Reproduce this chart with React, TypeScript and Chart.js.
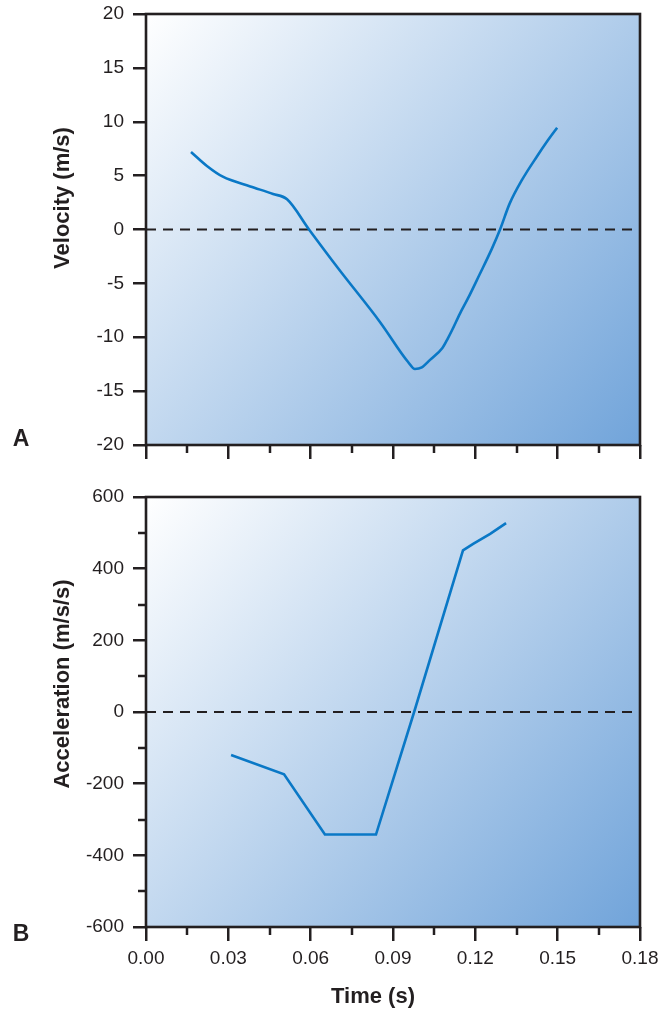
import React, { useEffect, useRef } from 'react';
import { Chart, registerables } from 'chart.js';

Chart.register(...registerables);

// ---------- data ----------
const timeMin = 0;
const timeMax = 0.18;
const timeStep = 0.03;

const velocityMin = -20;
const velocityMax = 20;
const velocityStep = 5;

const accelMin = -600;
const accelMax = 600;
const accelStep = 200;

const velocityTime = [
  0.0164, 0.0222, 0.028, 0.038, 0.0463, 0.0514, 0.0594, 0.07, 0.0853, 0.0955,
  0.098, 0.1005, 0.1035, 0.108, 0.11, 0.1115, 0.1144, 0.1173, 0.1215, 0.126,
  0.129, 0.1325, 0.137, 0.1425, 0.1465, 0.1498,
];
const velocityValues = [
  7.2, 5.9, 4.9, 4.0, 3.3, 2.8, 0, -3.6, -8.6, -12.3,
  -12.95, -12.8, -12.1, -11.0, -10.1, -9.35, -7.8, -6.4, -4.2, -1.8,
  0, 2.4, 4.6, 6.8, 8.3, 9.45,
];

const accelTime = [0.031, 0.0503, 0.0652, 0.0838, 0.0977, 0.1155, 0.1192, 0.1254, 0.1312];
const accelValues = [-120, -174, -342, -342, 0, 451, 469, 497, 527];

const zeroLineTime = [0, 0.18];
const zeroLineValues = [0, 0];

// ---------- styling ----------
const FONT = "'Liberation Sans', Arial, Helvetica, sans-serif";
const INK = '#231f20';
const LINE_BLUE = '#0a78c6';

const toXY = (xs: number[], ys: number[]) => xs.map((x, i) => ({ x, y: ys[i] }));

const decorPlugin = {
  id: 'decor',
  beforeDraw(chart: any) {
    const { ctx, chartArea: a } = chart;
    const g = ctx.createLinearGradient(a.left, a.top, a.right, a.bottom);
    g.addColorStop(0, '#ffffff');
    g.addColorStop(1, '#71a4da');
    ctx.save();
    ctx.fillStyle = g;
    ctx.fillRect(a.left, a.top, a.right - a.left, a.bottom - a.top);
    ctx.restore();
  },
  afterDraw(chart: any, _args: any, opts: any) {
    const { ctx, chartArea: a } = chart;
    ctx.save();
    ctx.strokeStyle = INK;
    ctx.lineWidth = 2.5;
    if (opts.minorX) {
      const s = chart.scales.x;
      const n = Math.round((s.max - s.min) / opts.minorX);
      for (let i = 1; i < n; i += 2) {
        const px = Math.round(s.getPixelForValue(s.min + i * opts.minorX));
        ctx.beginPath();
        ctx.moveTo(px, a.bottom);
        ctx.lineTo(px, a.bottom + 8);
        ctx.stroke();
      }
    }
    if (opts.minorY) {
      const s = chart.scales.y;
      const n = Math.round((s.max - s.min) / opts.minorY);
      for (let i = 1; i < n; i += 2) {
        const py = Math.round(s.getPixelForValue(s.min + i * opts.minorY));
        ctx.beginPath();
        ctx.moveTo(a.left, py);
        ctx.lineTo(a.left - 8, py);
        ctx.stroke();
      }
    }
    ctx.lineWidth = 2.6;
    ctx.strokeRect(a.left, a.top, a.right - a.left, a.bottom - a.top);
    ctx.fillStyle = INK;
    ctx.textAlign = 'center';
    ctx.textBaseline = 'middle';
    if (opts.yTitle) {
      ctx.save();
      ctx.translate(opts.yTitle.x, opts.yTitle.y);
      ctx.rotate(-Math.PI / 2);
      ctx.font = `bold 22px ${FONT}`;
      ctx.fillText(opts.yTitle.text, 0, 0);
      ctx.restore();
    }
    if (opts.xTitle) {
      ctx.font = `bold 22px ${FONT}`;
      ctx.fillText(opts.xTitle.text, opts.xTitle.x, opts.xTitle.y);
    }
    if (opts.letter) {
      ctx.font = `bold 23px ${FONT}`;
      ctx.fillText(opts.letter.text, opts.letter.x, opts.letter.y);
    }
    ctx.restore();
  },
};

function makeConfig(kind: 'v' | 'a', xAxisHeight: number, padTop: number): any {
  const isV = kind === 'v';
  return {
    type: 'line',
    data: {
      datasets: [
        {
          data: isV ? toXY(velocityTime, velocityValues) : toXY(accelTime, accelValues),
          borderColor: LINE_BLUE,
          borderWidth: 2.6,
          pointRadius: 0,
          fill: false,
          cubicInterpolationMode: isV ? 'monotone' : 'default',
          tension: 0,
        },
        {
          data: toXY(zeroLineTime, zeroLineValues),
          borderColor: INK,
          borderWidth: 1.8,
          borderDash: [10, 7],
          pointRadius: 0,
          fill: false,
        },
      ],
    },
    options: {
      responsive: false,
      animation: false,
      layout: { padding: { top: padTop, right: 20, bottom: 0, left: 0 } },
      plugins: {
        legend: { display: false },
        tooltip: { enabled: false },
        decor: {
          minorX: timeStep / 2,
          minorY: isV ? null : accelStep / 2,
          yTitle: isV
            ? { text: 'Velocity (m/s)', x: 63, y: 198 }
            : { text: 'Acceleration (m/s/s)', x: 63, y: 684 - 480 },
          xTitle: isV ? null : { text: 'Time (s)', x: 373, y: 997 - 480 },
          letter: isV ? { text: 'A', x: 21, y: 440 } : { text: 'B', x: 21, y: 935 - 480 },
        },
      },
      scales: {
        x: {
          type: 'linear',
          min: timeMin,
          max: timeMax,
          afterFit: (s: any) => {
            s.height = xAxisHeight;
            s.paddingLeft = 0;
            s.paddingRight = 0;
          },
          ticks: {
            stepSize: timeStep,
            maxRotation: 0,
            autoSkip: false,
            padding: 6,
            color: INK,
            font: { family: FONT, size: 19 },
            callback: (v: number) => (isV ? '' : Number(v).toFixed(2)),
          },
          grid: {
            display: true,
            drawOnChartArea: false,
            drawTicks: true,
            tickLength: 14,
            color: INK,
            lineWidth: 2.5,
          },
          border: { display: false },
        },
        y: {
          type: 'linear',
          min: isV ? velocityMin : accelMin,
          max: isV ? velocityMax : accelMax,
          afterFit: (s: any) => {
            s.width = 146;
            s.paddingTop = 0;
            s.paddingBottom = 0;
          },
          ticks: {
            stepSize: isV ? velocityStep : accelStep,
            autoSkip: false,
            padding: 9,
            color: INK,
            font: { family: FONT, size: 19 },
          },
          grid: {
            display: true,
            drawOnChartArea: false,
            drawTicks: true,
            tickLength: 13,
            color: INK,
            lineWidth: 2.5,
          },
          border: { display: false },
        },
      },
    },
    plugins: [decorPlugin],
  };
}

function Panel({ kind, top, height, xAxisHeight, padTop }: any) {
  const ref = useRef<HTMLCanvasElement | null>(null);
  useEffect(() => {
    if (!ref.current) return;
    const chart = new Chart(ref.current, makeConfig(kind, xAxisHeight, padTop));
    return () => chart.destroy();
  }, []);
  return (
    <canvas
      ref={ref}
      width={660}
      height={height}
      style={{ position: 'absolute', left: 0, top, width: 660, height }}
    />
  );
}

export default function App() {
  return (
    <div style={{ position: 'absolute', left: 0, top: 0, width: 660, height: 1010, background: '#fff' }}>
      <Panel kind="v" top={0} height={480} xAxisHeight={35} padTop={14} />
      <Panel kind="a" top={480} height={530} xAxisHeight={83} padTop={17} />
    </div>
  );
}
